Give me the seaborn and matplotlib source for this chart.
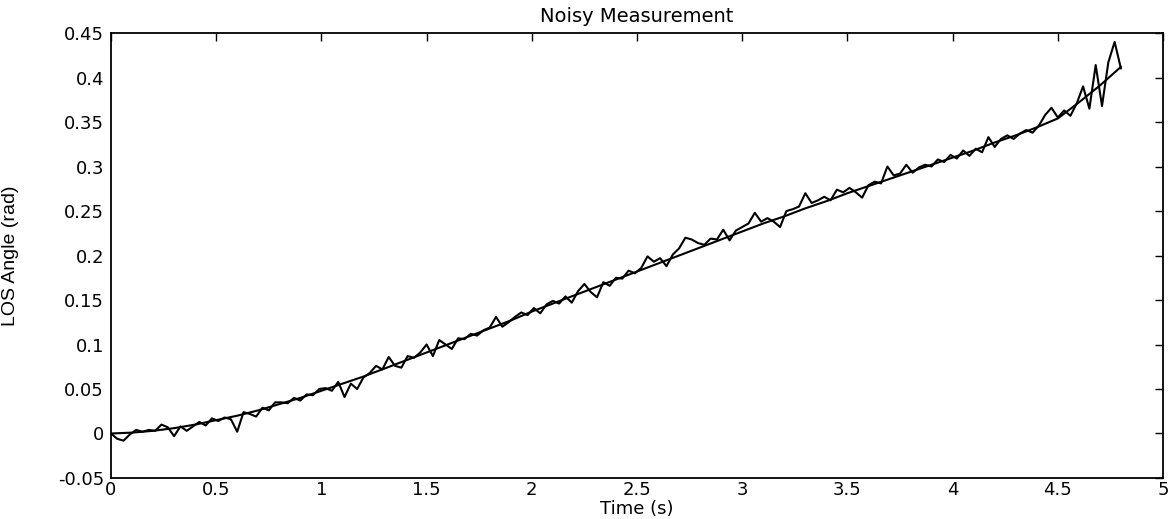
import numpy as np
import pandas as pd
import matplotlib
matplotlib.use("Agg")
import matplotlib.pyplot as plt
import seaborn as sns

# true LOS angle (smooth curve), read every 0.1 s
true_time = [0.0, 0.1, 0.2, 0.3, 0.4, 0.5, 0.6, 0.7, 0.8, 0.9,
             1.0, 1.1, 1.2, 1.3, 1.4, 1.5, 1.6, 1.7, 1.8, 1.9,
             2.0, 2.1, 2.2, 2.3, 2.4, 2.5, 2.6, 2.7, 2.8, 2.9,
             3.0, 3.1, 3.2, 3.3, 3.4, 3.5, 3.6, 3.7, 3.8, 3.9,
             4.0, 4.1, 4.2, 4.3, 4.4, 4.5, 4.6, 4.7, 4.8]
true_angle = [0.000, 0.001, 0.003, 0.006, 0.010, 0.015, 0.020, 0.026, 0.033, 0.040,
              0.048, 0.056, 0.064, 0.073, 0.082, 0.091, 0.100, 0.109, 0.118, 0.127,
              0.137, 0.146, 0.155, 0.164, 0.173, 0.182, 0.191, 0.200, 0.209, 0.218,
              0.227, 0.236, 0.244, 0.253, 0.261, 0.270, 0.278, 0.286, 0.294, 0.302,
              0.310, 0.318, 0.327, 0.335, 0.344, 0.354, 0.372, 0.391, 0.412]

# noisy measurement, sampled every 0.03 s
meas_time = np.round(np.arange(161) * 0.03, 2)
meas_angle = [
    0.000, -0.006, -0.008, -0.001, 0.004, 0.002, 0.004, 0.003, 0.010, 0.007,
    -0.003, 0.008, 0.003, 0.008, 0.013, 0.009, 0.017, 0.014, 0.018, 0.016,
    0.002, 0.024, 0.022, 0.019, 0.029, 0.026, 0.035, 0.035, 0.034, 0.040,
    0.037, 0.044, 0.043, 0.050, 0.051, 0.048, 0.058, 0.041, 0.056, 0.050,
    0.063, 0.068, 0.076, 0.072, 0.086, 0.076, 0.074, 0.087, 0.085, 0.091,
    0.100, 0.087, 0.105, 0.100, 0.095, 0.107, 0.106, 0.112, 0.110, 0.116,
    0.119, 0.131, 0.120, 0.125, 0.131, 0.136, 0.133, 0.141, 0.135, 0.145,
    0.149, 0.146, 0.154, 0.147, 0.160, 0.168, 0.159, 0.153, 0.170, 0.166,
    0.175, 0.174, 0.183, 0.180, 0.186, 0.199, 0.193, 0.197, 0.188, 0.201,
    0.208, 0.220, 0.218, 0.214, 0.212, 0.219, 0.218, 0.229, 0.217, 0.228,
    0.232, 0.236, 0.248, 0.238, 0.242, 0.238, 0.232, 0.250, 0.252, 0.255,
    0.270, 0.259, 0.262, 0.266, 0.262, 0.274, 0.271, 0.276, 0.271, 0.265,
    0.279, 0.283, 0.281, 0.300, 0.290, 0.292, 0.302, 0.293, 0.299, 0.302,
    0.300, 0.308, 0.305, 0.313, 0.309, 0.318, 0.312, 0.320, 0.316, 0.333,
    0.322, 0.331, 0.335, 0.331, 0.337, 0.341, 0.338, 0.346, 0.358, 0.366,
    0.355, 0.363, 0.357, 0.371, 0.390, 0.365, 0.414, 0.368, 0.417, 0.440,
    0.410]

x_ticks = [0, 0.5, 1, 1.5, 2, 2.5, 3, 3.5, 4, 4.5, 5]
x_labels = ["0", "0.5", "1", "1.5", "2", "2.5", "3", "3.5", "4", "4.5", "5"]
y_ticks = [-0.05, 0, 0.05, 0.1, 0.15, 0.2, 0.25, 0.3, 0.35, 0.4, 0.45]
y_labels = ["-0.05", "0", "0.05", "0.1", "0.15", "0.2", "0.25", "0.3", "0.35", "0.4", "0.45"]

sns.set_theme(style="white")
plt.rcParams['font.family'] = ['DejaVu Sans']
plt.rcParams['text.color'] = 'black'
plt.rcParams['axes.labelcolor'] = 'black'

fig = plt.figure(figsize=(11.73, 5.19), dpi=100)
ax = fig.add_axes([0.0946, 0.079, 0.8969, 0.8574])

truth_df = pd.DataFrame({"t": true_time, "angle": true_angle})
meas_df = pd.DataFrame({"t": meas_time, "angle": meas_angle})
sns.lineplot(data=truth_df, x="t", y="angle", color="black", linewidth=1.5, ax=ax)
sns.lineplot(data=meas_df, x="t", y="angle", color="black", linewidth=1.5, ax=ax)

ax.set_xlim(0, 5)
ax.set_ylim(-0.05, 0.45)
ax.set_xticks(x_ticks)
ax.set_xticklabels(x_labels)
ax.set_yticks(y_ticks)
ax.set_yticklabels(y_labels)
ax.tick_params(direction="in", length=6, width=1, top=True, right=True,
               labelsize=13, colors="black")
ax.tick_params(axis="x", pad=2)
ax.tick_params(axis="y", pad=5)
for s in ax.spines.values():
    s.set_color("black")
    s.set_linewidth(1.3)

ax.set_title("Noisy Measurement", fontsize=14, pad=8)
ax.set_xlabel("Time (s)", fontsize=13, labelpad=1)
ax.set_ylabel("LOS Angle (rad)", fontsize=14,
              family=['Liberation Sans Narrow', 'Liberation Sans'])
ax.yaxis.set_label_coords(-0.087, 0.5)

fig.savefig("out.png", dpi=100)
